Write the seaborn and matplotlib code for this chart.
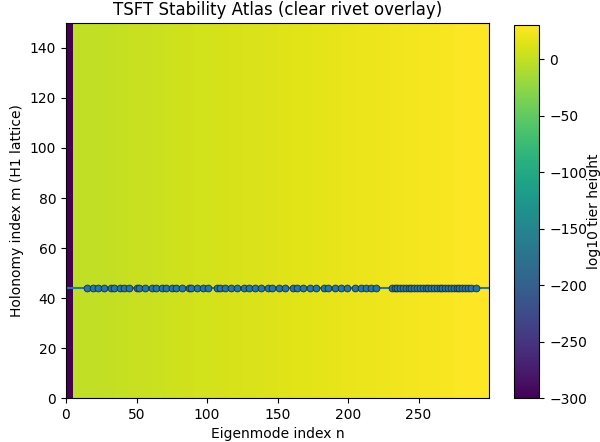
import numpy as np
import pandas as pd
import matplotlib
matplotlib.use("Agg")
import matplotlib.pyplot as plt
import seaborn as sns

# ── data ──────────────────────────────────────────────────────────────────────
# log10 tier height per block of 5 eigenmodes (n = 0-4, 5-9, ..., 295-299)
block_width = 5
tier_log10 = [
    -300.0, -2.4, -1.8, -1.3, -0.7, -0.2, 0.4, 0.9, 1.5, 2.1,
    2.7, 3.2, 3.8, 4.4, 4.9, 5.5, 6.0, 6.6, 7.2, 7.7,
    8.3, 8.9, 9.4, 10.0, 10.5, 11.1, 11.7, 12.2, 12.8, 13.4,
    14.0, 14.5, 15.1, 15.6, 16.2, 16.8, 17.3, 17.9, 18.4, 19.0,
    19.6, 20.1, 20.7, 21.3, 21.8, 22.4, 22.9, 23.5, 24.1, 24.6,
    25.3, 25.8, 26.4, 26.9, 27.5, 28.1, 28.6, 29.2, 29.8, 30.4,
]
n_holonomy = 150          # m rows of the H1 lattice
rivet_m = 44
rivet_n = [
    15, 19, 23, 27, 32, 34, 38, 41, 45, 50, 52, 56, 61, 64, 68, 71, 75, 78,
    82, 87, 89, 93, 97, 101, 107, 109, 113, 117, 121, 126, 130, 134, 138,
    143, 146, 151, 155, 161, 164, 168, 173, 177, 183, 186, 191, 195, 199,
    205, 209, 213, 216, 220,
    231, 233, 235, 237, 239, 241, 243, 245, 247, 249, 251, 253, 255, 257,
    259, 261, 263, 265, 267, 269, 271, 273, 275, 277, 279, 281, 283, 285,
    287, 291,
]
x_ticks = [0, 50, 100, 150, 200, 250]
y_ticks = [0, 20, 40, 60, 80, 100, 120, 140]
cbar_ticks = [-300, -250, -200, -150, -100, -50, 0]

# ── grid (constant along m) ───────────────────────────────────────────────────
row = np.repeat(np.array(tier_log10), block_width)
grid = pd.DataFrame(np.tile(row, (n_holonomy, 1)))

fig = plt.figure(figsize=(6, 4.42), dpi=100)
ax = fig.add_axes([0.110, 0.0995, 0.705, 0.8485])
cax = fig.add_axes([0.857, 0.0995, 0.042, 0.8440])

sns.heatmap(grid, cmap="viridis", ax=ax, cbar_ax=cax,
            xticklabels=False, yticklabels=False, rasterized=True)
ax.invert_yaxis()   # m grows upward
for s in ax.spines.values():
    s.set_visible(True)
    s.set_linewidth(0.8)
cbar = ax.collections[0].colorbar
cbar.outline.set_linewidth(0.8)
cbar.set_ticks(cbar_ticks)
cbar.set_label("log10 tier height", labelpad=0)

ax.axhline(rivet_m, color="C0", lw=1.5)
ax.scatter(rivet_n, [rivet_m] * len(rivet_n), s=24, color="C0",
           edgecolors="#1a2a3a", linewidths=0.6, zorder=3)

ax.set_xticks(x_ticks)
ax.set_xticklabels([str(t) for t in x_ticks], rotation=0)
ax.set_yticks(y_ticks)
ax.set_yticklabels([str(t) for t in y_ticks], rotation=0)
ax.tick_params(length=3.5, width=0.8)
ax.set_xlabel("Eigenmode index n")
ax.set_ylabel("Holonomy index m (H1 lattice)")
ax.set_title("TSFT Stability Atlas (clear rivet overlay)")

plt.savefig("out.png", dpi=100)
